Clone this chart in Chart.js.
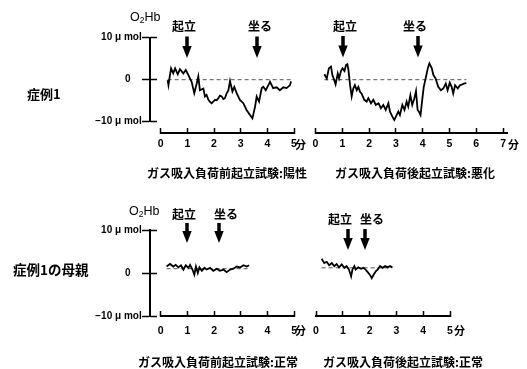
<!DOCTYPE html>
<html><head><meta charset="utf-8">
<script src="https://cdn.jsdelivr.net/npm/chart.js@4.4.0/dist/chart.umd.min.js"></script>
<style>
html,body{margin:0;padding:0;background:#fff;}
#wrap{position:relative;width:527px;height:369px;overflow:hidden;background:#fff;}
canvas{position:absolute;left:0;top:0;}
.t{position:absolute;white-space:nowrap;color:#000;font-family:"Noto Sans CJK JP",sans-serif;font-weight:700;line-height:1;}
.o{position:absolute;white-space:nowrap;color:#000;font-family:"Liberation Sans",Arial,sans-serif;font-size:12.5px;line-height:1;}
.o sub{font-size:8.5px;vertical-align:-2px;}
</style></head><body>
<div id="wrap">
<canvas id="c1" width="527" height="369"></canvas>
<canvas id="c2" width="527" height="369"></canvas>
<canvas id="c3" width="527" height="369"></canvas>
<canvas id="c4" width="527" height="369"></canvas>

<div class="o" style="left:130px;top:11px">O<sub>2</sub>Hb</div>
<div class="o" style="left:129px;top:204.5px">O<sub>2</sub>Hb</div>
<div class="t" style="left:27px;top:86.5px;font-size:13px">症例1</div>
<div class="t" style="left:13px;top:263px;font-size:13.5px">症例1の母親</div>
<div class="t" style="left:147px;top:166.5px;font-size:12px">ガス吸入負荷前起立試験:陽性</div>
<div class="t" style="left:335px;top:166.5px;font-size:12px">ガス吸入負荷後起立試験:悪化</div>
<div class="t" style="left:138px;top:356px;font-size:12px">ガス吸入負荷前起立試験:正常</div>
<div class="t" style="left:323px;top:356px;font-size:12px">ガス吸入負荷後起立試験:正常</div>
<div class="t" style="left:295px;top:138.5px;font-size:11px">分</div>
<div class="t" style="left:508px;top:138.5px;font-size:11px">分</div>
<div class="t" style="left:295px;top:325px;font-size:11px">分</div>
<div class="t" style="left:454px;top:325px;font-size:11px">分</div>
</div>
<script>
// ---------- data ----------
// 症例1, ガス吸入負荷前 (time in minutes, O2Hb in µmol)
const tlTime = [0.26,0.29,0.34,0.39,0.47,0.54,0.64,0.72,0.85,0.94,1.04,1.16,1.26,1.35,1.41,1.47,1.60,1.66,1.72,1.79,1.85,1.91,1.97,2.04,2.10,2.16,2.22,2.29,2.35,2.41,2.47,2.54,2.60,2.69,2.76,2.85,2.97,3.10,3.22,3.35,3.44,3.54,3.60,3.69,3.79,3.85,3.94,4.04,4.10,4.22,4.35,4.47,4.60,4.72,4.85,4.89];
const tlO2Hb = [-0.1,-1.3,0.8,2.7,1.5,2.7,1.3,2.5,1.5,2.3,1.1,-0.5,-3.2,-0.9,0.8,-2.5,-2.1,-4.0,-3.6,-4.8,-5.3,-5.6,-5.2,-4.8,-4.9,-4.4,-3.8,-4.0,-4.6,-4.4,-3.3,-2.5,-0.3,-2.8,-1.7,-3.2,-4.8,-5.6,-7.2,-8.4,-9.2,-6.4,-4.0,-5.2,-2.0,-1.7,-2.5,-1.3,-0.5,-2.0,-1.8,-2.5,-1.8,-2.0,-1.3,-0.4];
// 症例1, ガス吸入負荷後
const trTime = [0.33,0.42,0.50,0.58,0.63,0.70,0.75,0.83,0.88,0.95,1.01,1.08,1.14,1.19,1.23,1.29,1.35,1.41,1.47,1.54,1.60,1.66,1.72,1.82,1.91,1.97,2.07,2.16,2.25,2.35,2.44,2.53,2.62,2.72,2.78,2.87,2.94,3.03,3.09,3.15,3.24,3.32,3.40,3.46,3.54,3.61,3.69,3.75,3.81,3.86,3.92,3.99,4.04,4.11,4.19,4.25,4.34,4.40,4.48,4.58,4.68,4.77,4.86,4.93,5.01,5.08,5.14,5.21,5.31,5.39,5.48,5.56,5.63];
const trO2Hb = [1.3,0.3,2.7,3.1,1.1,-0.1,-1.1,1.5,0.3,2.1,2.7,2.1,3.5,3.7,2.3,-1.3,-4.0,-2.1,-1.3,-2.5,-1.7,-2.9,-3.3,-4.8,-5.2,-4.4,-5.6,-4.8,-6.0,-5.6,-6.8,-6.0,-7.2,-5.6,-7.6,-8.8,-9.6,-8.4,-7.6,-8.4,-6.0,-7.2,-5.2,-6.4,-3.7,-6.0,-4.4,-2.7,-7.2,-7.6,-8.4,-4.4,-1.7,0.3,2.7,3.9,2.7,1.1,0.3,-1.7,-2.5,-2.1,-0.9,-2.5,-0.7,-1.7,-3.3,-1.3,-2.1,-1.3,-1.1,-0.9,-0.8];
// 症例1の母親, ガス吸入負荷前
const blTime = [0.22,0.35,0.47,0.56,0.66,0.76,0.85,0.94,1.04,1.10,1.19,1.26,1.32,1.39,1.45,1.54,1.64,1.72,1.85,1.97,2.10,2.22,2.35,2.47,2.60,2.72,2.85,2.97,3.10,3.22,3.31];
const blO2Hb = [1.5,2.1,1.5,1.9,1.3,1.8,0.8,1.8,1.2,1.9,0.8,-0.4,1.5,0.0,1.3,0.5,1.2,0.8,1.2,0.5,1.0,0.5,0.8,0.2,0.8,1.0,1.5,1.3,1.8,1.5,1.8];
// 症例1の母親, ガス吸入負荷後
const brTime = [0.21,0.31,0.40,0.49,0.59,0.68,0.77,0.86,0.96,1.06,1.14,1.23,1.31,1.36,1.43,1.48,1.58,1.68,1.77,1.85,1.93,2.02,2.08,2.15,2.23,2.30,2.39,2.48,2.58,2.67,2.76,2.85];
const brO2Hb = [3.3,2.3,2.6,1.8,2.3,1.6,2.1,1.3,2.0,1.2,1.6,0.8,-0.8,0.8,1.6,0.8,1.3,1.0,1.2,0.8,0.2,-0.5,-1.2,-0.4,0.4,0.8,1.6,1.2,1.6,1.3,1.6,1.3];
// dashed baselines [value]
const tlBase = 0, trBase = 0, blBase = 1.0, brBase = 1.2;
// posture events (minutes)
const eventLabels = ['起立', '坐る'];
const tlEvents = [1.0, 3.6];
const trEvents = [1.03, 3.83];
const blEvents = [1.0, 2.2];
const brEvents = [1.2, 1.83];
// y tick labels
const yTickValues = [-10, 0, 10];
const yTickText = ['−10 μ mol', '0', '10 μ mol'];

// ---------- drawing ----------
const eventPlugin = {
  id: 'events',
  afterDraw(chart, args, o) {
    const ctx = chart.ctx, xs = chart.scales.x;
    ctx.save();
    ctx.fillStyle = '#000';
    o.times.forEach((t, i) => {
      const x = Math.round(xs.getPixelForValue(t));
      const headH = 12;
      ctx.fillRect(x - 1.75, o.shaftTop, 3.5, o.tip - headH - o.shaftTop + 1);
      ctx.beginPath();
      ctx.moveTo(x - 4.7, o.tip - headH);
      ctx.lineTo(x + 4.7, o.tip - headH);
      ctx.lineTo(x, o.tip);
      ctx.closePath();
      ctx.fill();
      ctx.font = 'bold 12px "Noto Sans CJK JP"';
      ctx.textAlign = 'center';
      ctx.textBaseline = 'middle';
      ctx.fillText(o.labels[i], x + o.labelShift[i], o.labelY);
    });
    ctx.restore();
  }
};

const numFont = '"Liberation Sans", Arial, sans-serif';
const ySpace = {'10': '   ', '0': '       ', '-10': '   '};

function makeChart(id, g, times, vals, base, events) {
  const scales = {
    x: {
      type: 'linear', min: 0, max: g.xMax, position: {y: g.xAxisAt},
      ticks: {stepSize: 1, autoSkip: false, maxRotation: 0, includeBounds: false,
        padding: g.tickPad, color: '#000',
        font: {family: numFont, size: 10.5, weight: 'bold', lineHeight: 1.2}},
      grid: {drawOnChartArea: false, drawTicks: true, tickLength: -6, tickWidth: 1.5, color: '#000'},
      border: {display: true, width: 2, color: '#000'}
    },
    y: {
      type: 'linear', min: -10, max: 10, display: g.showY,
      position: g.showY ? {x: g.yAxisAt} : 'left',
      ticks: {stepSize: 10, color: '#000',
        font: {family: numFont, size: 10, weight: 'bold'},
        callback: v => {
          const k = yTickValues.indexOf(v);
          return k < 0 ? '' : yTickText[k] + ySpace[String(v)];
        }},
      grid: {drawOnChartArea: false, drawTicks: true, tickLength: 7, tickWidth: 1.5, color: '#000'},
      border: {display: true, width: 2, color: '#000'}
    }
  };
  if (g.showY) {
    scales.y2 = {
      type: 'linear', min: -10, max: 10, position: {x: g.yAxisAt},
      ticks: {stepSize: 10, color: '#000', callback: () => ''},
      grid: {drawOnChartArea: false, drawTicks: true, tickLength: -7, tickWidth: 1.5, color: '#000'},
      border: {display: false}
    };
  }
  return new Chart(document.getElementById(id), {
    type: 'line',
    data: {
      datasets: [
        {data: times.map((t, i) => ({x: t, y: vals[i]})), borderColor: '#000', borderWidth: 1.8,
         pointRadius: 0, tension: 0, fill: false},
        {data: [{x: times[0], y: base}, {x: times[times.length - 1], y: base}],
         borderColor: '#555', borderWidth: 1, borderDash: [4, 3], pointRadius: 0, fill: false}
      ]
    },
    options: {
      responsive: false, animation: false, devicePixelRatio: 1,
      layout: {padding: {left: g.left, right: 527 - g.right, top: g.top, bottom: 369 - g.bottom}},
      plugins: {legend: {display: false}, tooltip: {enabled: false},
        events: {times: events, labels: eventLabels, labelY: g.labelY, shaftTop: g.shaftTop,
          tip: g.tip, labelShift: g.labelShift}},
      scales
    },
    plugins: [eventPlugin]
  });
}

makeChart('c1', {left: 160.7, right: 294.0, top: 37.7, bottom: 121.7, xMax: 5, xAxisAt: -12.6,
  tickPad: 11, showY: true, yAxisAt: -0.4, labelY: 26.5, shaftTop: 36.5, tip: 58, labelShift: [-3, 3]},
  tlTime, tlO2Hb, tlBase, tlEvents);
makeChart('c2', {left: 315.5, right: 507.1, top: 37.7, bottom: 121.7, xMax: 7.15, xAxisAt: -12.6,
  tickPad: 11, showY: false, labelY: 26, shaftTop: 36, tip: 57.5, labelShift: [2, -3]},
  trTime, trO2Hb, trBase, trEvents);
makeChart('c3', {left: 160.7, right: 294.2, top: 230, bottom: 316, xMax: 5, xAxisAt: -10.1,
  tickPad: 14.4, showY: true, yAxisAt: -0.4, labelY: 214, shaftTop: 223, tip: 243, labelShift: [-3, 7]},
  blTime, blO2Hb, blBase, blEvents);
makeChart('c4', {left: 316, right: 450, top: 230, bottom: 316, xMax: 5, xAxisAt: -10.1,
  tickPad: 14.4, showY: false, labelY: 219, shaftTop: 229, tip: 250, labelShift: [-8, 7]},
  brTime, brO2Hb, brBase, brEvents);
</script>
</body></html>
